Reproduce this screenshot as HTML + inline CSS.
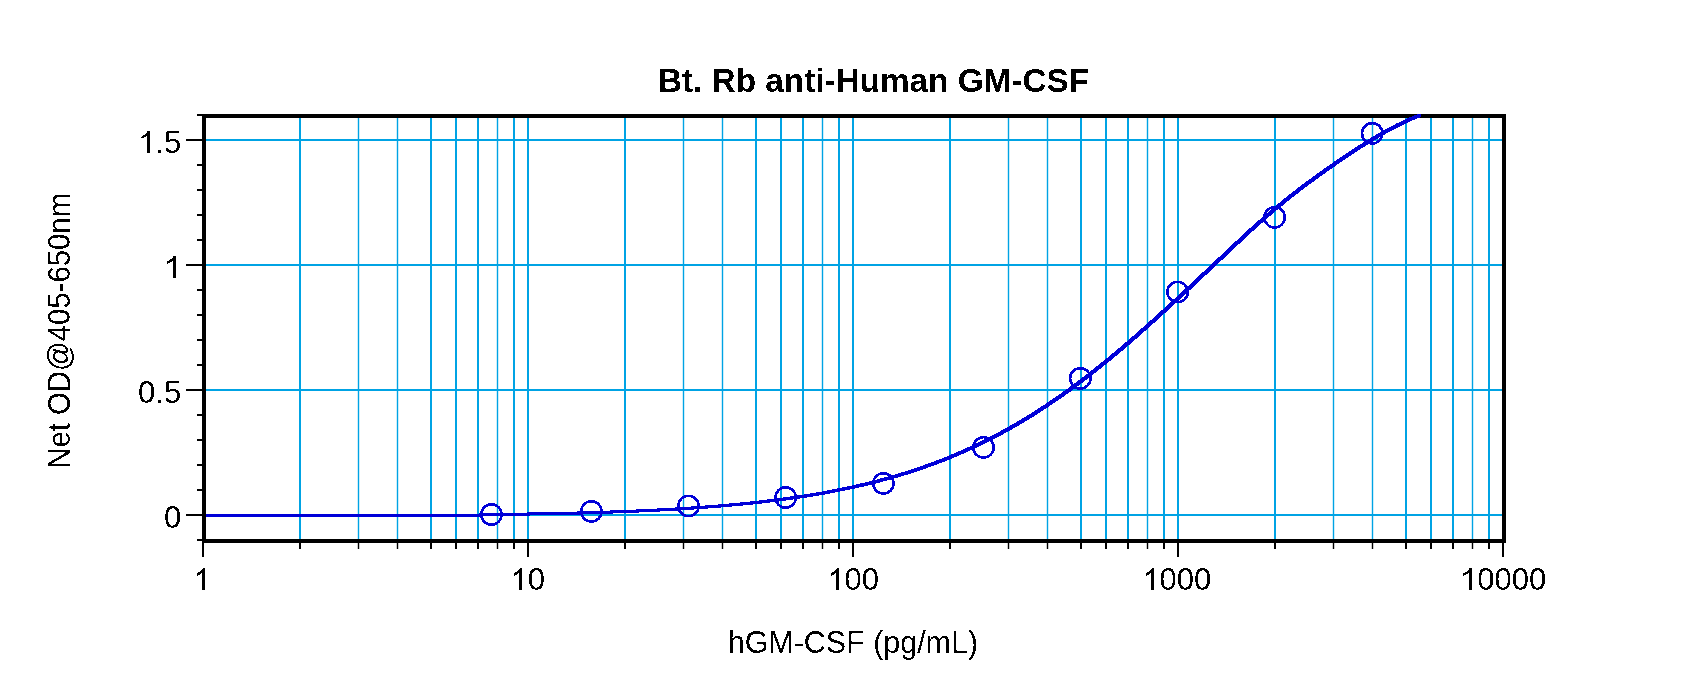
<!DOCTYPE html>
<html><head><meta charset="utf-8"><style>
html,body{margin:0;padding:0;background:#fff;width:1700px;height:684px;overflow:hidden}
svg{display:block}
text{font-family:"Liberation Sans",sans-serif}
</style></head><body>
<svg width="1700" height="684" viewBox="0 0 1700 684">
<rect width="1700" height="684" fill="#fff"/>
<rect x="299" y="118" width="2" height="421" fill="#00a3e4"/>
<rect x="357.8" y="118" width="1.4" height="421" fill="#00a3e4"/>
<rect x="396.8" y="118" width="1.4" height="421" fill="#00a3e4"/>
<rect x="430" y="118" width="2" height="421" fill="#00a3e4"/>
<rect x="455" y="118" width="2" height="421" fill="#00a3e4"/>
<rect x="477" y="118" width="2" height="421" fill="#00a3e4"/>
<rect x="496.8" y="118" width="1.4" height="421" fill="#00a3e4"/>
<rect x="513" y="118" width="2" height="421" fill="#00a3e4"/>
<rect x="527" y="118" width="2" height="421" fill="#00a3e4"/>
<rect x="624" y="118" width="2" height="421" fill="#00a3e4"/>
<rect x="682.8" y="118" width="1.4" height="421" fill="#00a3e4"/>
<rect x="721.8" y="118" width="1.4" height="421" fill="#00a3e4"/>
<rect x="755" y="118" width="2" height="421" fill="#00a3e4"/>
<rect x="780" y="118" width="2" height="421" fill="#00a3e4"/>
<rect x="802" y="118" width="2" height="421" fill="#00a3e4"/>
<rect x="821.8" y="118" width="1.4" height="421" fill="#00a3e4"/>
<rect x="838" y="118" width="2" height="421" fill="#00a3e4"/>
<rect x="852" y="118" width="2" height="421" fill="#00a3e4"/>
<rect x="949" y="118" width="2" height="421" fill="#00a3e4"/>
<rect x="1007.8" y="118" width="1.4" height="421" fill="#00a3e4"/>
<rect x="1046.8" y="118" width="1.4" height="421" fill="#00a3e4"/>
<rect x="1080" y="118" width="2" height="421" fill="#00a3e4"/>
<rect x="1105" y="118" width="2" height="421" fill="#00a3e4"/>
<rect x="1127" y="118" width="2" height="421" fill="#00a3e4"/>
<rect x="1146.8" y="118" width="1.4" height="421" fill="#00a3e4"/>
<rect x="1163" y="118" width="2" height="421" fill="#00a3e4"/>
<rect x="1177" y="118" width="2" height="421" fill="#00a3e4"/>
<rect x="1274" y="118" width="2" height="421" fill="#00a3e4"/>
<rect x="1332.8" y="118" width="1.4" height="421" fill="#00a3e4"/>
<rect x="1371.8" y="118" width="1.4" height="421" fill="#00a3e4"/>
<rect x="1405" y="118" width="2" height="421" fill="#00a3e4"/>
<rect x="1430" y="118" width="2" height="421" fill="#00a3e4"/>
<rect x="1452" y="118" width="2" height="421" fill="#00a3e4"/>
<rect x="1471.8" y="118" width="1.4" height="421" fill="#00a3e4"/>
<rect x="1488" y="118" width="2" height="421" fill="#00a3e4"/>
<rect x="206" y="514" width="1296" height="2" fill="#00a3e4"/>
<rect x="206" y="389.0" width="1296" height="2" fill="#00a3e4"/>
<rect x="206" y="264" width="1296" height="2" fill="#00a3e4"/>
<rect x="206" y="139.0" width="1296" height="2" fill="#00a3e4"/>
<rect x="202" y="114" width="4" height="429" fill="#000"/>
<rect x="1502" y="114" width="4" height="429" fill="#000"/>
<rect x="202" y="114" width="1304" height="4" fill="#000"/>
<rect x="202" y="539" width="1304" height="4" fill="#000"/>
<rect x="197" y="114" width="5" height="2" fill="#000"/>
<rect x="197" y="539" width="5" height="2" fill="#000"/>
<path d="M206,513.75 215.5,513.75 215.5,516.75 206,516.75ZM212.5,513.75 223.5,513.75 223.5,516.75 212.5,516.75ZM220.5,513.75 231.5,513.75 231.5,516.75 220.5,516.75ZM228.5,513.75 239.5,513.75 239.5,516.75 228.5,516.75ZM236.5,513.75 247.5,513.75 247.5,516.75 236.5,516.75ZM244.5,513.75 255.5,513.75 255.5,516.75 244.5,516.75ZM252.5,513.75 263.5,513.75 263.5,516.75 252.5,516.75ZM260.5,513.75 271.5,513.75 271.5,516.75 260.5,516.75ZM268.5,513.75 279.5,513.75 279.5,516.75 268.5,516.75ZM276.5,513.75 287.5,513.75 287.5,516.75 276.5,516.75ZM284.5,513.75 295.5,513.75 295.5,516.75 284.5,516.75ZM292.5,513.75 303.5,513.75 303.5,516.75 292.5,516.75ZM300.5,513.75 311.5,513.75 311.5,516.75 300.5,516.75ZM308.5,513.75 319.5,513.75 319.5,516.75 308.5,516.75ZM316.5,513.75 327.5,513.75 327.5,516.75 316.5,516.75ZM324.5,513.75 335.5,513.75 335.5,516.75 324.5,516.75ZM332.5,513.75 343.5,513.75 343.5,516.75 332.5,516.75ZM340.5,513.75 351.5,513.75 351.5,516.75 340.5,516.75ZM348.5,513.75 359.5,513.75 359.5,516.75 348.5,516.75ZM356.5,513.75 367.5,513.75 367.5,516.75 356.5,516.75ZM364.5,513.75 375.5,513.75 375.5,516.75 364.5,516.75ZM372.5,513.75 383.5,513.75 383.5,516.75 372.5,516.75ZM380.5,513.75 391.5,513.75 391.5,516.75 380.5,516.75ZM388.5,513.75 399.5,513.75 399.5,516.75 388.5,516.75ZM396.5,513.75 407.5,513.75 407.5,516.75 396.5,516.75ZM404.5,513.75 415.5,513.75 415.5,516.75 404.5,516.75ZM412.5,513.75 423.5,513.75 423.5,516.75 412.5,516.75ZM420.5,513.75 431.5,513.75 431.5,516.75 420.5,516.75ZM428.5,513.75 439.5,513.75 439.5,516.75 428.5,516.75ZM436.5,513.75 447.5,513.75 447.5,516.75 436.5,516.75ZM444.5,513.75 455.5,513.75 455.5,516.75 444.5,516.75ZM452.5,513.75 463.5,513.75 463.5,516.75 452.5,516.75ZM460.5,513.75 471.5,513.75 471.5,516.75 460.5,516.75ZM468.5,513.75 479.5,513.75 479.5,516.75 468.5,516.75ZM476.5,513.75 484.5,513.05 487.5,513.05 487.5,516.05 479.5,516.75 476.5,516.75ZM484.5,513.05 492.5,512.97 495.5,512.97 495.5,515.97 487.5,516.05 484.5,516.05ZM492.5,512.97 500.5,512.87 503.5,512.87 503.5,515.87 495.5,515.97 492.5,515.97ZM500.5,512.87 508.5,512.78 511.5,512.78 511.5,515.78 503.5,515.87 500.5,515.87ZM508.5,512.78 516.5,512.67 519.5,512.67 519.5,515.67 511.5,515.78 508.5,515.78ZM516.5,512.67 524.5,512.55 527.5,512.55 527.5,515.55 519.5,515.67 516.5,515.67ZM524.5,512.55 532.5,512.42 535.5,512.42 535.5,515.42 527.5,515.55 524.5,515.55ZM532.5,512.42 540.5,512.28 543.5,512.28 543.5,515.28 535.5,515.42 532.5,515.42ZM540.5,512.28 548.5,512.13 551.5,512.13 551.5,515.13 543.5,515.28 540.5,515.28ZM548.5,512.13 556.5,511.97 559.5,511.97 559.5,514.97 551.5,515.13 548.5,515.13ZM556.5,511.97 564.5,511.79 567.5,511.79 567.5,514.79 559.5,514.97 556.5,514.97ZM564.5,511.79 572.5,511.61 575.5,511.61 575.5,514.61 567.5,514.79 564.5,514.79ZM572.5,511.61 580.5,511.4 583.5,511.4 583.5,514.4 575.5,514.61 572.5,514.61ZM580.5,511.4 588.5,511.18 591.5,511.18 591.5,514.18 583.5,514.4 580.5,514.4ZM588.5,511.18 596.5,510.95 599.5,510.95 599.5,513.95 591.5,514.18 588.5,514.18ZM596.5,510.95 604.5,510.7 607.5,510.7 607.5,513.7 599.5,513.95 596.5,513.95ZM604.5,510.7 612.5,510.42 615.5,510.42 615.5,513.42 607.5,513.7 604.5,513.7ZM612.5,510.42 620.5,510.13 623.5,510.13 623.5,513.13 615.5,513.42 612.5,513.42ZM620.5,510.13 628.5,509.82 631.5,509.82 631.5,512.82 623.5,513.13 620.5,513.13ZM628.5,509.82 636.5,509.49 639.5,509.49 639.5,512.49 631.5,512.82 628.5,512.82ZM636.5,509.49 644.5,509.13 647.5,509.13 647.5,512.13 639.5,512.49 636.5,512.49ZM644.5,509.13 652.5,508.75 655.5,508.75 655.5,511.75 647.5,512.13 644.5,512.13ZM652.5,508.75 660.5,508.35 663.5,508.35 663.5,511.35 655.5,511.75 652.5,511.75ZM660.5,508.35 668.5,507.91 671.5,507.91 671.5,510.91 663.5,511.35 660.5,511.35ZM668.5,507.91 676.5,507.45 679.5,507.45 679.5,510.45 671.5,510.91 668.5,510.91ZM676.5,507.45 684.5,506.95 687.5,506.95 687.5,509.95 679.5,510.45 676.5,510.45ZM684.5,506.95 692.5,506.43 695.5,506.43 695.5,509.43 687.5,509.95 684.5,509.95ZM692.5,506.43 700.5,505.86 703.5,505.86 703.5,508.86 695.5,509.43 692.5,509.43ZM700.5,505.86 708.5,505.27 711.5,505.27 711.5,508.27 703.5,508.86 700.5,508.86ZM708.5,505.27 716.5,504.63 719.5,504.63 719.5,507.63 711.5,508.27 708.5,508.27ZM716.5,504.63 724.5,503.95 727.5,503.95 727.5,506.95 719.5,507.63 716.5,507.63ZM724.5,503.95 732.5,503.23 735.5,503.23 735.5,506.23 727.5,506.95 724.5,506.95ZM732.5,503.23 740.5,502.47 743.5,502.47 743.5,505.47 735.5,506.23 732.5,506.23ZM740.5,502.47 748.5,501.65 751.5,501.65 751.5,504.65 743.5,505.47 740.5,505.47ZM748.5,501.65 756.5,500.79 759.5,500.79 759.5,503.79 751.5,504.65 748.5,504.65ZM756.5,500.79 764.5,499.87 767.5,499.87 767.5,502.87 759.5,503.79 756.5,503.79ZM764.5,499.87 772.5,498.9 775.5,498.9 775.5,501.9 767.5,502.87 764.5,502.87ZM772.5,498.9 780.5,497.87 783.5,497.87 783.5,500.87 775.5,501.9 772.5,501.9ZM780.5,497.87 788.5,496.77 791.5,496.77 791.5,499.77 783.5,500.87 780.5,500.87ZM788.5,496.77 796.5,495.61 799.5,495.61 799.5,498.61 791.5,499.77 788.5,499.77ZM796.5,495.61 804.5,494.38 807.5,494.38 807.5,497.38 799.5,498.61 796.5,498.61ZM804.5,494.38 812.5,493.08 815.5,493.08 815.5,496.08 807.5,497.38 804.5,497.38ZM812.5,493.08 820.5,491.7 823.5,491.7 823.5,494.7 815.5,496.08 812.5,496.08ZM820.5,491.7 828.5,490.24 831.5,490.24 831.5,493.24 823.5,494.7 820.5,494.7ZM828.5,490.24 836.5,488.69 839.5,488.69 839.5,491.69 831.5,493.24 828.5,493.24ZM836.5,488.69 844.5,487.06 847.5,487.06 847.5,490.06 839.5,491.69 836.5,491.69ZM844.5,487.06 852.5,485.34 855.5,485.34 855.5,488.34 847.5,490.06 844.5,490.06ZM852.5,485.34 860.5,483.51 863.5,483.51 863.5,486.51 855.5,488.34 852.5,488.34ZM860.5,483.51 868.5,481.59 871.5,481.59 871.5,484.59 863.5,486.51 860.5,486.51ZM868.5,481.59 876.5,479.56 879.5,479.56 879.5,482.56 871.5,484.59 868.5,484.59ZM876.5,479.56 884.5,477.41 887.5,477.41 887.5,480.41 879.5,482.56 876.5,482.56ZM884.5,477.41 892.5,475.16 895.5,475.16 895.5,478.16 887.5,480.41 884.5,480.41ZM892.5,475.16 900.5,472.78 903.5,472.78 903.5,475.78 895.5,478.16 892.5,478.16ZM900.5,472.78 908.5,470.27 911.5,470.27 911.5,473.27 903.5,475.78 900.5,475.78ZM908.5,470.27 916.5,467.64 919.5,467.64 919.5,470.64 911.5,473.27 908.5,473.27ZM916.5,467.64 924.5,464.87 927.5,464.87 927.5,467.87 919.5,470.64 916.5,470.64ZM924.5,464.87 932.5,461.97 935.5,461.97 935.5,464.97 927.5,467.87 924.5,467.87ZM932.5,461.97 940.5,458.92 943.5,458.92 943.5,461.92 935.5,464.97 932.5,464.97ZM940.5,458.92 948.5,455.72 951.5,455.72 951.5,458.72 943.5,461.92 940.5,461.92ZM948.5,455.72 956.5,452.37 959.5,452.37 959.5,455.37 951.5,458.72 948.5,458.72ZM956.5,452.37 964.5,448.86 967.5,448.86 967.5,451.86 959.5,455.37 956.5,455.37ZM964.5,448.86 972.5,445.19 975.5,445.19 975.5,448.19 967.5,451.86 964.5,451.86ZM972.5,445.19 980.5,441.36 983.5,441.36 983.5,444.36 975.5,448.19 972.5,448.19ZM980.5,441.36 988.5,437.37 991.5,437.37 991.5,440.37 983.5,444.36 980.5,444.36ZM988.5,437.37 996.5,433.2 999.5,433.2 999.5,436.2 991.5,440.37 988.5,440.37ZM996.5,433.2 1004.5,428.86 1007.5,428.86 1007.5,431.86 999.5,436.2 996.5,436.2ZM1004.5,428.86 1012.5,424.34 1015.5,424.34 1015.5,427.34 1007.5,431.86 1004.5,431.86ZM1012.5,424.34 1020.5,419.65 1023.5,419.65 1023.5,422.65 1015.5,427.34 1012.5,427.34ZM1020.5,419.65 1028.5,414.79 1031.5,414.79 1031.5,417.79 1023.5,422.65 1020.5,422.65ZM1028.5,414.79 1036.5,409.74 1039.5,409.74 1039.5,412.74 1031.5,417.79 1028.5,417.79ZM1036.5,409.74 1044.5,404.52 1047.5,404.52 1047.5,407.52 1039.5,412.74 1036.5,412.74ZM1044.5,404.52 1052.5,399.13 1055.5,399.13 1055.5,402.13 1047.5,407.52 1044.5,407.52ZM1052.5,399.13 1060.5,393.56 1063.5,393.56 1063.5,396.56 1055.5,402.13 1052.5,402.13ZM1060.5,393.56 1068.5,387.82 1071.5,387.82 1071.5,390.82 1063.5,396.56 1060.5,396.56ZM1068.5,387.82 1076.5,381.92 1079.5,381.92 1079.5,384.92 1071.5,390.82 1068.5,390.82ZM1076.5,381.92 1084.5,375.85 1087.5,375.85 1087.5,378.85 1079.5,384.92 1076.5,384.92ZM1084.5,375.85 1092.5,369.63 1095.5,369.63 1095.5,372.63 1087.5,378.85 1084.5,378.85ZM1092.5,369.63 1100.5,363.26 1103.5,363.26 1103.5,366.26 1095.5,372.63 1092.5,372.63ZM1100.5,363.26 1108.5,356.74 1111.5,356.74 1111.5,359.74 1103.5,366.26 1100.5,366.26ZM1108.5,356.74 1116.5,350.09 1119.5,350.09 1119.5,353.09 1111.5,359.74 1108.5,359.74ZM1116.5,350.09 1124.5,343.3 1127.5,343.3 1127.5,346.3 1119.5,353.09 1116.5,353.09ZM1124.5,343.3 1132.5,336.4 1135.5,336.4 1135.5,339.4 1127.5,346.3 1124.5,346.3ZM1132.5,336.4 1140.5,329.38 1143.5,329.38 1143.5,332.38 1135.5,339.4 1132.5,339.4ZM1140.5,329.38 1148.5,322.26 1151.5,322.26 1151.5,325.26 1143.5,332.38 1140.5,332.38ZM1148.5,322.26 1156.5,315.06 1159.5,315.06 1159.5,318.06 1151.5,325.26 1148.5,325.26ZM1156.5,315.06 1164.5,307.77 1167.5,307.77 1167.5,310.77 1159.5,318.06 1156.5,318.06ZM1164.5,307.77 1172.5,300.43 1175.5,300.43 1175.5,303.43 1167.5,310.77 1164.5,310.77ZM1172.5,300.43 1180.5,293.02 1183.5,293.02 1183.5,296.02 1175.5,303.43 1172.5,303.43ZM1180.5,293.02 1188.5,285.59 1191.5,285.59 1191.5,288.59 1183.5,296.02 1180.5,296.02ZM1188.5,285.59 1196.5,278.12 1199.5,278.12 1199.5,281.12 1191.5,288.59 1188.5,288.59ZM1196.5,278.12 1204.5,270.62 1207.5,270.62 1207.5,273.62 1199.5,281.12 1196.5,281.12ZM1204.5,270.62 1212.5,263.11 1215.5,263.11 1215.5,266.11 1207.5,273.62 1204.5,273.62ZM1212.5,263.11 1220.5,255.58 1223.5,255.58 1223.5,258.58 1215.5,266.11 1212.5,266.11ZM1220.5,255.58 1228.5,248.04 1231.5,248.04 1231.5,251.04 1223.5,258.58 1220.5,258.58ZM1228.5,248.04 1236.5,240.52 1239.5,240.52 1239.5,243.52 1231.5,251.04 1228.5,251.04ZM1236.5,240.52 1244.5,233.07 1247.5,233.07 1247.5,236.07 1239.5,243.52 1236.5,243.52ZM1244.5,233.07 1252.5,225.76 1255.5,225.76 1255.5,228.76 1247.5,236.07 1244.5,236.07ZM1252.5,225.76 1260.5,218.62 1263.5,218.62 1263.5,221.62 1255.5,228.76 1252.5,228.76ZM1260.5,218.62 1268.5,211.7 1271.5,211.7 1271.5,214.7 1263.5,221.62 1260.5,221.62ZM1268.5,211.7 1276.5,204.99 1279.5,204.99 1279.5,207.99 1271.5,214.7 1268.5,214.7ZM1276.5,204.99 1284.5,198.47 1287.5,198.47 1287.5,201.47 1279.5,207.99 1276.5,207.99ZM1284.5,198.47 1292.5,192.14 1295.5,192.14 1295.5,195.14 1287.5,201.47 1284.5,201.47ZM1292.5,192.14 1300.5,185.98 1303.5,185.98 1303.5,188.98 1295.5,195.14 1292.5,195.14ZM1300.5,185.98 1308.5,179.99 1311.5,179.99 1311.5,182.99 1303.5,188.98 1300.5,188.98ZM1308.5,179.99 1316.5,174.15 1319.5,174.15 1319.5,177.15 1311.5,182.99 1308.5,182.99ZM1316.5,174.15 1324.5,168.44 1327.5,168.44 1327.5,171.44 1319.5,177.15 1316.5,177.15ZM1324.5,168.44 1332.5,162.85 1335.5,162.85 1335.5,165.85 1327.5,171.44 1324.5,171.44ZM1332.5,162.85 1340.5,157.37 1343.5,157.37 1343.5,160.37 1335.5,165.85 1332.5,165.85ZM1340.5,157.37 1348.5,151.99 1351.5,151.99 1351.5,154.99 1343.5,160.37 1340.5,160.37ZM1348.5,151.99 1356.5,146.74 1359.5,146.74 1359.5,149.74 1351.5,154.99 1348.5,154.99ZM1356.5,146.74 1364.5,141.65 1367.5,141.65 1367.5,144.65 1359.5,149.74 1356.5,149.74ZM1364.5,141.65 1372.5,136.76 1375.5,136.76 1375.5,139.76 1367.5,144.65 1364.5,144.65ZM1372.5,136.76 1380.5,132.08 1383.5,132.08 1383.5,135.08 1375.5,139.76 1372.5,139.76ZM1380.5,132.08 1388.5,127.65 1391.5,127.65 1391.5,130.65 1383.5,135.08 1380.5,135.08ZM1388.5,127.65 1396.5,123.5 1399.5,123.5 1399.5,126.5 1391.5,130.65 1388.5,130.65ZM1396.5,123.5 1404.5,119.64 1407.5,119.64 1407.5,122.64 1399.5,126.5 1396.5,126.5ZM1404.5,119.64 1412.5,116.12 1415.5,116.12 1415.5,119.12 1407.5,122.64 1404.5,122.64ZM1412.5,116.12 1417.59,114.1 1420.59,114.1 1420.59,117.1 1415.5,119.12 1412.5,119.12Z" fill="#0000d8" fill-rule="nonzero" shape-rendering="crispEdges"/>
<circle cx="491.4" cy="514.5" r="10.2" fill="none" stroke="#0000d8" stroke-width="2.6" shape-rendering="crispEdges"/>
<circle cx="591.4" cy="511.4" r="10.2" fill="none" stroke="#0000d8" stroke-width="2.6" shape-rendering="crispEdges"/>
<circle cx="688.5" cy="506" r="10.2" fill="none" stroke="#0000d8" stroke-width="2.6" shape-rendering="crispEdges"/>
<circle cx="785.7" cy="497.5" r="10.2" fill="none" stroke="#0000d8" stroke-width="2.6" shape-rendering="crispEdges"/>
<circle cx="883.4" cy="483.4" r="10.2" fill="none" stroke="#0000d8" stroke-width="2.6" shape-rendering="crispEdges"/>
<circle cx="983.5" cy="447.4" r="10.2" fill="none" stroke="#0000d8" stroke-width="2.6" shape-rendering="crispEdges"/>
<circle cx="1080.3" cy="378.4" r="10.2" fill="none" stroke="#0000d8" stroke-width="2.6" shape-rendering="crispEdges"/>
<circle cx="1177.6" cy="292" r="10.2" fill="none" stroke="#0000d8" stroke-width="2.6" shape-rendering="crispEdges"/>
<circle cx="1274.6" cy="217.3" r="10.2" fill="none" stroke="#0000d8" stroke-width="2.6" shape-rendering="crispEdges"/>
<circle cx="1372.2" cy="133.3" r="10.2" fill="none" stroke="#0000d8" stroke-width="2.6" shape-rendering="crispEdges"/>
<rect x="186" y="514.0" width="16" height="2" fill="#000"/>
<rect x="197" y="489.0" width="5" height="2" fill="#000"/>
<rect x="197" y="464.0" width="5" height="2" fill="#000"/>
<rect x="197" y="439.0" width="5" height="2" fill="#000"/>
<rect x="197" y="414.0" width="5" height="2" fill="#000"/>
<rect x="186" y="389.0" width="16" height="2" fill="#000"/>
<rect x="197" y="364.0" width="5" height="2" fill="#000"/>
<rect x="197" y="339.0" width="5" height="2" fill="#000"/>
<rect x="197" y="314.0" width="5" height="2" fill="#000"/>
<rect x="197" y="289.0" width="5" height="2" fill="#000"/>
<rect x="186" y="264.0" width="16" height="2" fill="#000"/>
<rect x="197" y="239.0" width="5" height="2" fill="#000"/>
<rect x="197" y="214.0" width="5" height="2" fill="#000"/>
<rect x="197" y="189.0" width="5" height="2" fill="#000"/>
<rect x="197" y="164.0" width="5" height="2" fill="#000"/>
<rect x="186" y="139.0" width="16" height="2" fill="#000"/>
<rect x="202" y="543" width="2" height="14" fill="#000"/>
<rect x="299" y="543" width="2" height="6" fill="#000"/>
<rect x="357.8" y="543" width="1.4" height="6" fill="#000"/>
<rect x="396.8" y="543" width="1.4" height="6" fill="#000"/>
<rect x="430" y="543" width="2" height="6" fill="#000"/>
<rect x="455" y="543" width="2" height="6" fill="#000"/>
<rect x="477" y="543" width="2" height="6" fill="#000"/>
<rect x="496.8" y="543" width="1.4" height="6" fill="#000"/>
<rect x="513" y="543" width="2" height="6" fill="#000"/>
<rect x="527" y="543" width="2" height="14" fill="#000"/>
<rect x="624" y="543" width="2" height="6" fill="#000"/>
<rect x="682.8" y="543" width="1.4" height="6" fill="#000"/>
<rect x="721.8" y="543" width="1.4" height="6" fill="#000"/>
<rect x="755" y="543" width="2" height="6" fill="#000"/>
<rect x="780" y="543" width="2" height="6" fill="#000"/>
<rect x="802" y="543" width="2" height="6" fill="#000"/>
<rect x="821.8" y="543" width="1.4" height="6" fill="#000"/>
<rect x="838" y="543" width="2" height="6" fill="#000"/>
<rect x="852" y="543" width="2" height="14" fill="#000"/>
<rect x="949" y="543" width="2" height="6" fill="#000"/>
<rect x="1007.8" y="543" width="1.4" height="6" fill="#000"/>
<rect x="1046.8" y="543" width="1.4" height="6" fill="#000"/>
<rect x="1080" y="543" width="2" height="6" fill="#000"/>
<rect x="1105" y="543" width="2" height="6" fill="#000"/>
<rect x="1127" y="543" width="2" height="6" fill="#000"/>
<rect x="1146.8" y="543" width="1.4" height="6" fill="#000"/>
<rect x="1163" y="543" width="2" height="6" fill="#000"/>
<rect x="1177" y="543" width="2" height="14" fill="#000"/>
<rect x="1274" y="543" width="2" height="6" fill="#000"/>
<rect x="1332.8" y="543" width="1.4" height="6" fill="#000"/>
<rect x="1371.8" y="543" width="1.4" height="6" fill="#000"/>
<rect x="1405" y="543" width="2" height="6" fill="#000"/>
<rect x="1430" y="543" width="2" height="6" fill="#000"/>
<rect x="1452" y="543" width="2" height="6" fill="#000"/>
<rect x="1471.8" y="543" width="1.4" height="6" fill="#000"/>
<rect x="1488" y="543" width="2" height="6" fill="#000"/>
<rect x="1502" y="543" width="2" height="14" fill="#000"/>
<defs><filter id="crisp" x="0" y="0" width="1700" height="684" filterUnits="userSpaceOnUse"><feComponentTransfer><feFuncA type="discrete" tableValues="0 1"/></feComponentTransfer></filter></defs>
<g filter="url(#crisp)"><text x="163.96" y="528" font-size="31">0</text>
<text x="138.11" y="403.0" font-size="31">0.5</text>
<path transform="translate(163.96,278) scale(0.015137,-0.015137)" d="M763,0 L583,0 L583,1147 Q518,1085 415,1024.5 Q312,964 223,931 L223,1105 Q383,1180 493,1278 Q603,1376 651,1466 L763,1466 Z"/>
<path transform="translate(138.11,153.0) scale(0.015137,-0.015137)" d="M763,0 L583,0 L583,1147 Q518,1085 415,1024.5 Q312,964 223,931 L223,1105 Q383,1180 493,1278 Q603,1376 651,1466 L763,1466 Z"/>
<text x="155.35" y="153.0" font-size="31">.5</text>
<path transform="translate(193.38,590) scale(0.015137,-0.015137)" d="M763,0 L583,0 L583,1147 Q518,1085 415,1024.5 Q312,964 223,931 L223,1105 Q383,1180 493,1278 Q603,1376 651,1466 L763,1466 Z"/>
<path transform="translate(510.46,590) scale(0.015137,-0.015137)" d="M763,0 L583,0 L583,1147 Q518,1085 415,1024.5 Q312,964 223,931 L223,1105 Q383,1180 493,1278 Q603,1376 651,1466 L763,1466 Z"/>
<text x="527.70" y="590" font-size="31">0</text>
<path transform="translate(827.34,590) scale(0.015137,-0.015137)" d="M763,0 L583,0 L583,1147 Q518,1085 415,1024.5 Q312,964 223,931 L223,1105 Q383,1180 493,1278 Q603,1376 651,1466 L763,1466 Z"/>
<text x="844.58" y="590" font-size="31">00</text>
<path transform="translate(1142.32,590) scale(0.015137,-0.015137)" d="M763,0 L583,0 L583,1147 Q518,1085 415,1024.5 Q312,964 223,931 L223,1105 Q383,1180 493,1278 Q603,1376 651,1466 L763,1466 Z"/>
<text x="1159.56" y="590" font-size="31">000</text>
<path transform="translate(1460.00,590) scale(0.015137,-0.015137)" d="M763,0 L583,0 L583,1147 Q518,1085 415,1024.5 Q312,964 223,931 L223,1105 Q383,1180 493,1278 Q603,1376 651,1466 L763,1466 Z"/>
<text x="1477.24" y="590" font-size="31">0000</text>
<text transform="translate(873.5,92) scale(0.9884,1)" x="0" y="0" font-size="33.7" font-weight="bold" text-anchor="middle">Bt. Rb anti-Human GM-CSF</text>
<text transform="translate(852.85,652.8) scale(0.9821,1)" x="0" y="0" font-size="31" text-anchor="middle">hGM-CSF (pg/mL)</text>
<text transform="translate(69.8,330.8) rotate(-90) scale(0.9463,1)" x="0" y="0" font-size="31" text-anchor="middle">Net OD@405-650nm</text></g>
</svg>
</body></html>
